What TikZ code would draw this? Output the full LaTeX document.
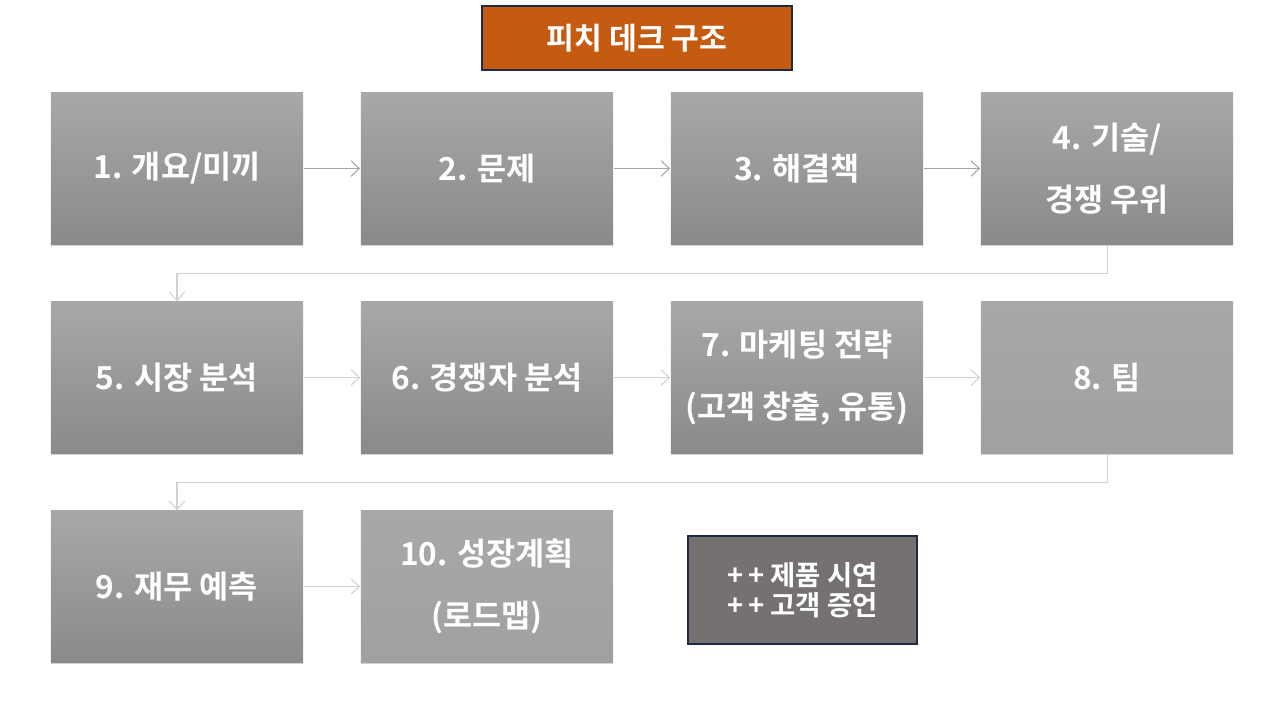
\documentclass[tikz,border=0pt]{standalone}
\usepackage{fontspec}
\setmainfont{Noto Sans CJK KR}[BoldFont={Noto Sans CJK KR Bold}]
\usetikzlibrary{shadows,arrows.meta}
\definecolor{titlefill}{HTML}{C55A11}
\definecolor{navy}{HTML}{1F2A44}
\definecolor{darkfill}{HTML}{767171}
\definecolor{boxtop}{HTML}{A8A8A8}
\definecolor{boxbot}{HTML}{8A8A8A}
\begin{document}
\begin{tikzpicture}[x=0.01cm,y=-0.01cm,
  stepbox/.style={rectangle, minimum width=2.52cm, minimum height=1.51cm, inner sep=0pt,
    top color=boxtop, bottom color=boxbot, text=white, align=center,
    font=\bfseries\fontsize{9}{17.8}\selectfont,
    drop shadow={shadow xshift=0pt, shadow yshift=-0.5pt, opacity=0.35}},
  lightbox/.style={stepbox, top color=boxtop, bottom color=boxtop!75!boxbot},
  flow/.style={draw=black!35, line width=0.3pt, -{Straight Barb[length=2.4pt,width=4.4pt]}},
  flowlight/.style={flow, draw=black!18}]
\useasboundingbox (0,0) rectangle (1280,717);
\fill[white] (0,0) rectangle (1280,717);
% title
\node[rectangle, minimum width=3.1cm, minimum height=0.64cm, fill=titlefill, draw=navy,
  line width=0.5pt, text=white, font=\bfseries\fontsize{8.6}{10}\selectfont] (title) at (637,38) {피치 데크 구조};
% row 1
\node[stepbox] (b1) at (177,168.5) {1. 개요/미끼};
\node[stepbox] (b2) at (487,168.5) {2. 문제};
\node[stepbox] (b3) at (797,168.5) {3. 해결책};
\node[stepbox] (b4) at (1107,168.5) {4. 기술/\\경쟁 우위};
% row 2
\node[stepbox] (b5) at (177,377.5) {5. 시장 분석};
\node[stepbox] (b6) at (487,377.5) {6. 경쟁자 분석};
\node[stepbox] (b7) at (797,377.5) {7. 마케팅 전략\\(고객 창출, 유통)};
\node[lightbox] (b8) at (1107,377.5) {8. 팀};
% row 3
\node[stepbox] (b9) at (177,586.5) {9. 재무 예측};
\node[lightbox] (b10) at (487,586.5) {10. 성장계획\\(로드맵)};
% extra box
\node[rectangle, minimum width=2.29cm, minimum height=1.08cm, fill=darkfill, draw=navy,
  line width=0.5pt, text=white, align=center, font=\bfseries\fontsize{7.8}{8.7}\selectfont] (extra) at (802.5,590) {+\,+ 제품 시연\\+\,+ 고객 증언};
% connectors
\draw[flow] (b1) -- (b2);
\draw[flow] (b2) -- (b3);
\draw[flow] (b3) -- (b4);
\draw[flowlight] (b4.south) -- ++(0,29) -| (b5.north);
\draw[flowlight] (b5) -- (b6);
\draw[flowlight] (b6) -- (b7);
\draw[flowlight] (b7) -- (b8);
\draw[flowlight] (b8.south) -- ++(0,29) -| (b9.north);
\draw[flowlight] (b9) -- (b10);
\end{tikzpicture}
\end{document}
